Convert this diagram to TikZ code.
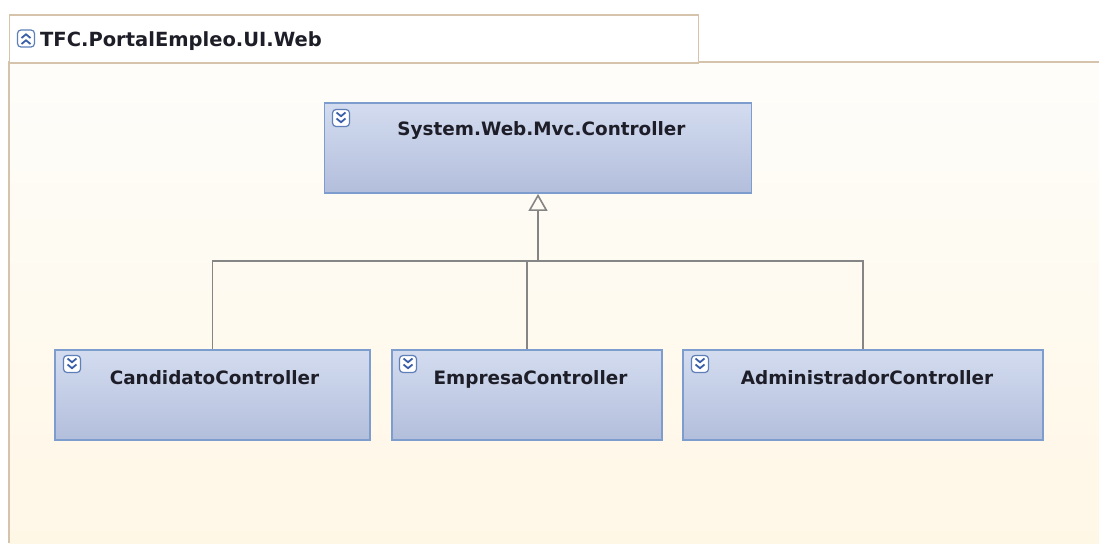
\documentclass[tikz,border=0pt]{standalone}
\usepackage{fontspec}
\setmainfont{DejaVu Sans}
\usetikzlibrary{arrows.meta}
\definecolor{tan}{HTML}{D6C3AC}
\definecolor{bgtop}{HTML}{FEFDFA}
\definecolor{bgbot}{HTML}{FFF7E6}
\definecolor{boxtop}{HTML}{D3DCEF}
\definecolor{boxbot}{HTML}{B3BEDC}
\definecolor{boxline}{HTML}{7D9DCF}
\definecolor{iconline}{HTML}{5E7FB8}
\definecolor{chev}{HTML}{3A5FA8}
\definecolor{conn}{HTML}{858585}
\definecolor{txt}{HTML}{1E1E28}
\tikzset{
  x=1pt, y=-1pt,
  cls/.style={draw=boxline, line width=1.8pt, top color=boxtop, bottom color=boxbot, shading angle=0, inner sep=0pt},
  clslabel/.style={font=\bfseries\fontsize{18.4}{20}\selectfont, text=txt, inner sep=0pt, anchor=base},
  conline/.style={draw=conn, line width=1.8pt},
  chevdown/.pic={
    \draw[iconline, fill=white, rounded corners=3.5pt, line width=1.2pt] (-8.5,-8.5) rectangle (8.5,8.5);
    \draw[chev, line width=1.8pt] (-4.5,-5.5)--(0,-1.8)--(4.5,-5.5);
    \draw[chev, line width=1.8pt] (-4.5,0.5)--(0,4.2)--(4.5,0.5);
  },
  chevup/.pic={
    \draw[iconline, fill=white, rounded corners=3.5pt, line width=1.2pt] (-8.5,-8.5) rectangle (8.5,8.5);
    \draw[chev, line width=1.8pt] (-4.5,-0.5)--(0,-4.2)--(4.5,-0.5);
    \draw[chev, line width=1.8pt] (-4.5,5.5)--(0,1.8)--(4.5,5.5);
  }
}
\begin{document}
\begin{tikzpicture}
\useasboundingbox (0,0) rectangle (1099,543);
% container body
\shade[top color=bgtop, bottom color=bgbot] (9,62) rectangle (1099,543);
\draw[tan, line width=2.2pt] (1099,62) -- (9,62) -- (9,543);
% container tab
\node[draw=tan, line width=1.8pt, fill=white, minimum width=689pt, minimum height=48pt, inner sep=0pt, anchor=north west] (tab) at (8.5,14) {};
\pic at (26,38.5) {chevup};
\node[font=\bfseries\fontsize{19.5}{21}\selectfont, text=txt, anchor=base west, inner sep=0pt] (title) at (40,46) {TFC.PortalEmpleo.UI.Web};
% classes
\node[cls, minimum width=427pt, minimum height=90pt] (base) at (538,148) {};
\node[cls, minimum width=315pt, minimum height=90pt] (cand) at (212.5,395) {};
\node[cls, minimum width=270pt, minimum height=90pt] (emp) at (527,395) {};
\node[cls, minimum width=360pt, minimum height=90pt] (adm) at (863,395) {};
\pic at (341,118) {chevdown};
\pic at (72,364) {chevdown};
\pic at (408,364) {chevdown};
\pic at (700,364) {chevdown};
\node[clslabel] (lbase) at (541.5,135) {System.Web.Mvc.Controller};
\node[clslabel] (lcand) at (214.5,384) {CandidatoController};
\node[clslabel] (lemp) at (530.5,384) {EmpresaController};
\node[clslabel] (ladm) at (867,384) {AdministradorController};
% connectors
\coordinate (bus) at (538,261);
\draw[conline] (cand.north) |- (bus);
\draw[conline] (adm.north) |- (bus);
\draw[conline] (emp.north) -- (emp.north |- bus);
\draw[draw=conn, line width=2.6pt, -{Triangle[open, length=17pt, width=19pt, line width=1.6pt]}] (bus) -- (base.south);
\end{tikzpicture}
\end{document}
